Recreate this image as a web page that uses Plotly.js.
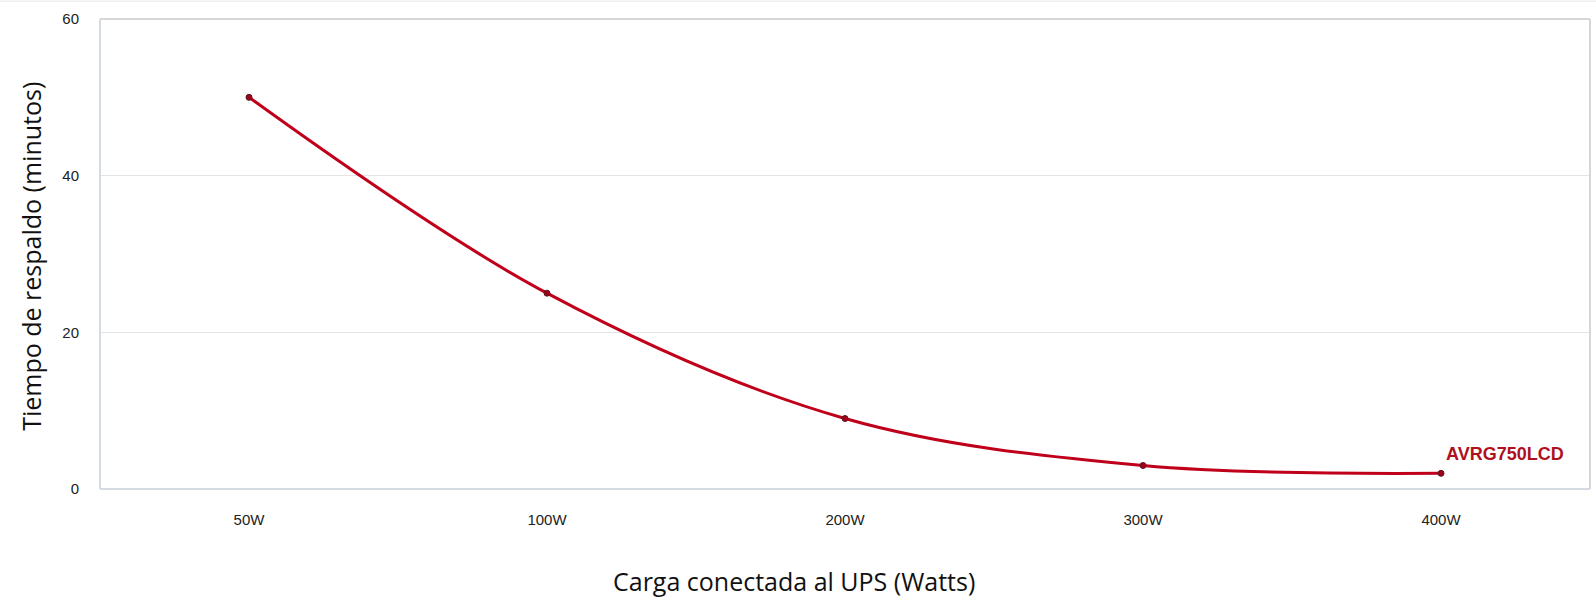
<!DOCTYPE html>
<html><head><meta charset="utf-8">
<script src="https://cdn.plot.ly/plotly-3.0.1.min.js"></script>
<style>html,body{margin:0;padding:0;background:#fff;}#chart{width:1596px;height:598px;}</style>
</head><body><div id="chart"></div>
<script>
const categories = ["50W", "100W", "200W", "300W", "400W"];
const minutos = [50, 25, 9, 3, 2];
const seriesName = "AVRG750LCD";
const yTicks = [0, 20, 40, 60];
const xTitle = "Carga conectada al UPS (Watts)";
const yTitle = "Tiempo de respaldo (minutos)";

const trace = {
  x: categories, y: minutos, type: "scatter", mode: "lines+markers",
  line: {shape: "spline", smoothing: 1, color: "#c0001a", width: 3},
  marker: {size: 6, color: "#a0001a", line: {color: "#5a1a22", width: 1}},
  name: seriesName, showlegend: false
};
const tf = {family: "Liberation Sans, Arial, sans-serif", size: 15, color: "#222"};
const titleFont = {family: "Open Sans, sans-serif", size: 25, color: "#111"};
const layout = {
  width: 1596, height: 598,
  margin: {l: 100, r: 6, t: 19, b: 109},
  paper_bgcolor: "#fff", plot_bgcolor: "#fff",
  showlegend: false,
  xaxis: {type: "category", range: [-0.5, 4.5], showgrid: false, zeroline: false,
    showline: false, ticks: "", ticklabelstandoff: 20, tickfont: tf},
  yaxis: {range: [0, 60], tickvals: yTicks, showgrid: true, gridcolor: "#e4e4e4", gridwidth: 1,
    zeroline: false, showline: false, ticks: "", ticklabelstandoff: 20, tickfont: tf},
  shapes: [
    {type: "line", xref: "paper", yref: "paper", x0: -0.1, x1: 1.01, y0: 1.038, y1: 1.038, line: {color: "#f0f0f0", width: 1.5}},
    {type: "line", xref: "paper", yref: "paper", x0: 0, x1: 1, y0: 1, y1: 1, line: {color: "#d6d6d6", width: 2}},
    {type: "line", xref: "paper", yref: "paper", x0: 1, x1: 1, y0: 0, y1: 1, line: {color: "#d6d6d6", width: 2}},
    {type: "line", xref: "paper", yref: "paper", x0: 0, x1: 0, y0: 0, y1: 1, line: {color: "#d4dbe3", width: 2}},
    {type: "line", xref: "paper", yref: "paper", x0: 0, x1: 1, y0: 0, y1: 0, line: {color: "#d4dbe3", width: 2}}
  ],
  annotations: [
    {x: categories[4], y: minutos[4], xref: "x", yref: "y", text: "<b>" + seriesName + "</b>",
     showarrow: false, xanchor: "left", yanchor: "bottom", xshift: 3, yshift: 7,
     font: {family: "Liberation Sans, Arial, sans-serif", size: 18, color: "#b0101e"}},
    {x: 0.466, y: -0.196, xref: "paper", yref: "paper", text: xTitle, showarrow: false,
     xanchor: "center", yanchor: "middle", font: titleFont},
    {x: -0.0463, y: 0.494, xref: "paper", yref: "paper", text: yTitle, showarrow: false,
     textangle: -90, xanchor: "center", yanchor: "middle", font: titleFont}
  ]
};
Plotly.newPlot("chart", [trace], layout, {displayModeBar: false, staticPlot: true});
</script></body></html>
